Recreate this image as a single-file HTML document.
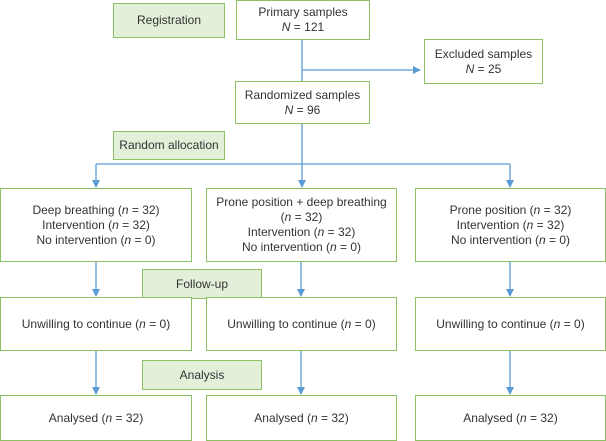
<html><head><style>
body{margin:0;width:606px;height:441px;background:#fff;position:relative;font-family:"Liberation Sans",sans-serif;font-size:12px;color:#333;overflow:hidden}
.b{position:absolute;box-sizing:border-box;border:1.5px solid #8cc264;background:#fff;display:flex;align-items:center;justify-content:center;text-align:center;line-height:15px}
.b>span{display:block}
.g{background:#e2efd9}
i{font-style:italic}
svg{position:absolute;left:0;top:0;z-index:5}
</style></head><body>
<svg width="606" height="441">
<defs><marker id="a" markerWidth="8" markerHeight="8" refX="7" refY="4" orient="auto" markerUnits="userSpaceOnUse"><path d="M0,0L8,4L0,8z" fill="#5b9bd5"/></marker></defs>
<g stroke="#5b9bd5" stroke-width="1.3" fill="none">
<path d="M302,40V81"/><path d="M302,70H420" marker-end="url(#a)"/>
<path d="M302,124V164"/><path d="M96,164H510"/>
<path d="M96,164V187" marker-end="url(#a)"/>
<path d="M302,164V187" marker-end="url(#a)"/>
<path d="M510,164V187" marker-end="url(#a)"/>
<path d="M96,262V296" marker-end="url(#a)"/>
<path d="M301,262V296" marker-end="url(#a)"/>
<path d="M510,262V296" marker-end="url(#a)"/>
<path d="M96,351V394" marker-end="url(#a)"/>
<path d="M301,351V394" marker-end="url(#a)"/>
<path d="M510,351V394" marker-end="url(#a)"/>
</g></svg>
<div class="b g" style="left:113px;top:3px;width:112px;height:35px"><span>Registration</span></div>
<div class="b" style="left:236px;top:0;width:134px;height:40px"><span>Primary samples<br><i>N</i> = 121</span></div>
<div class="b" style="left:424px;top:39px;width:119px;height:45px"><span>Excluded samples<br><i>N</i> = 25</span></div>
<div class="b" style="left:235px;top:81px;width:135px;height:43px"><span>Randomized samples<br><i>N</i> = 96</span></div>
<div class="b g" style="left:113px;top:131px;width:112px;height:29px"><span>Random allocation</span></div>
<div class="b" style="left:0;top:188px;width:192px;height:74px"><span>Deep breathing (<i>n</i> = 32)<br>Intervention (<i>n</i> = 32)<br>No intervention (<i>n</i> = 0)</span></div>
<div class="b" style="left:206px;top:188px;width:191px;height:74px"><span>Prone position + deep breathing<br>(<i>n</i> = 32)<br>Intervention (<i>n</i> = 32)<br>No intervention (<i>n</i> = 0)</span></div>
<div class="b" style="left:415px;top:188px;width:191px;height:74px"><span>Prone position (<i>n</i> = 32)<br>Intervention (<i>n</i> = 32)<br>No intervention (<i>n</i> = 0)</span></div>
<div class="b g" style="left:142px;top:269px;width:120px;height:30px"><span>Follow-up</span></div>
<div class="b" style="left:0;top:297px;width:192px;height:54px"><span>Unwilling to continue (<i>n</i> = 0)</span></div>
<div class="b" style="left:206px;top:297px;width:191px;height:54px"><span>Unwilling to continue (<i>n</i> = 0)</span></div>
<div class="b" style="left:415px;top:297px;width:191px;height:54px"><span>Unwilling to continue (<i>n</i> = 0)</span></div>
<div class="b g" style="left:142px;top:360px;width:120px;height:30px"><span>Analysis</span></div>
<div class="b" style="left:0;top:395px;width:192px;height:46px"><span>Analysed (<i>n</i> = 32)</span></div>
<div class="b" style="left:206px;top:395px;width:191px;height:46px"><span>Analysed (<i>n</i> = 32)</span></div>
<div class="b" style="left:415px;top:395px;width:191px;height:46px"><span>Analysed (<i>n</i> = 32)</span></div>
</body></html>
